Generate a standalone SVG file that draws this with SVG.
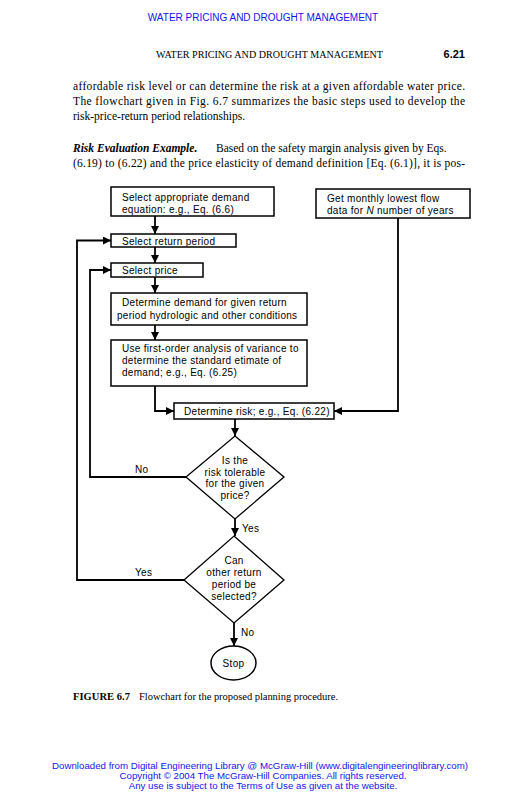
<svg xmlns="http://www.w3.org/2000/svg" width="531" height="800" viewBox="0 0 531 800">
<defs>
<marker id="ah" viewBox="0 0 10 10" refX="10" refY="5" markerWidth="9" markerHeight="8" markerUnits="userSpaceOnUse" orient="auto">
<path d="M0,0 L10,5 L0,10 z" fill="#000"/>
</marker>
</defs>
<style>
.blue{font-family:"Liberation Sans",Arial,sans-serif;fill:#1414f0;}
.tm{font-family:"Liberation Serif","Times New Roman",serif;fill:#000;}
.box{fill:#fff;stroke:#000;stroke-width:1.5;}
.dia{fill:#fff;stroke:#000;stroke-width:1.3;}
.lbl{font-family:"Liberation Sans",Arial,sans-serif;font-size:10px;letter-spacing:0.3px;fill:#000;}
.mid{text-anchor:middle;}
.con{fill:none;stroke:#000;stroke-width:1.8;}
.arr{marker-end:url(#ah);}
</style>
<rect width="531" height="800" fill="#fff"/>

<text class="blue mid" x="263" y="21" font-size="10">WATER PRICING AND DROUGHT MANAGEMENT</text>
<text class="tm" x="156" y="58" font-size="9.5" textLength="227" lengthAdjust="spacingAndGlyphs">WATER PRICING AND DROUGHT MANAGEMENT</text>
<text x="465" y="58" font-family="Liberation Sans,Arial,sans-serif" font-weight="bold" font-size="11" text-anchor="end">6.21</text>

<text class="tm" x="73" y="90" font-size="11.5" textLength="392" lengthAdjust="spacing">affordable risk level or can determine the risk at a given affordable water price.</text>
<text class="tm" x="73" y="105" font-size="11.5" textLength="392" lengthAdjust="spacing">The flowchart given in Fig. 6.7 summarizes the basic steps used to develop the</text>
<text class="tm" x="73" y="120" font-size="11.5">risk-price-return period relationships.</text>
<text class="tm" x="73" y="152" font-size="11.5"><tspan font-weight="bold" font-style="italic">Risk Evaluation Example.</tspan><tspan x="216">Based on the safety margin analysis given by Eqs.</tspan></text>
<text class="tm" x="73" y="167" font-size="11.5" textLength="392" lengthAdjust="spacing">(6.19) to (6.22) and the price elasticity of demand definition [Eq. (6.1)], it is pos-</text>

<g id="connectors">
<path class="con arr" d="M155,216 V234"/>
<path class="con arr" d="M155,247 V263"/>
<path class="con arr" d="M155,277 V293"/>
<path class="con arr" d="M155,325 V340"/>
<path class="con arr" d="M155,386 V411 H174"/>
<path class="con arr" d="M398,218 V411 H334"/>
<path class="con arr" d="M235,419 V436"/>
<path class="con arr" d="M187,477 H90 V270 H111"/>
<path class="con arr" d="M235,519 V536"/>
<path class="con arr" d="M185,580 H77 V240.5 H111"/>
<path class="con arr" d="M234,623 V646"/>
<text class="lbl" x="135" y="473">No</text>
<text class="lbl" x="135" y="576">Yes</text>
<text class="lbl" x="242" y="532">Yes</text>
<text class="lbl" x="241" y="636">No</text>
</g>

<g id="n1">
<rect class="box" x="111" y="187" width="163" height="29"/>
<text class="lbl" x="122" y="200.5">Select appropriate demand</text>
<text class="lbl" x="122" y="212.5">equation: e.g., Eq. (6.6)</text>
</g>
<g id="n2">
<rect class="box" x="316" y="189" width="154" height="29"/>
<text class="lbl" x="327" y="202">Get monthly lowest flow</text>
<text class="lbl" x="327" y="214">data for <tspan font-style="italic">N</tspan> number of years</text>
</g>
<g id="n3">
<rect class="box" x="111" y="234" width="125" height="13"/>
<text class="lbl" x="122" y="244.5">Select return period</text>
</g>
<g id="n4">
<rect class="box" x="111" y="263" width="92" height="14"/>
<text class="lbl" x="122" y="273.5">Select price</text>
</g>
<g id="n5">
<rect class="box" x="111" y="293" width="196" height="32"/>
<text class="lbl" x="122" y="306">Determine demand for given return</text>
<text class="lbl" x="117" y="319">period hydrologic and other conditions</text>
</g>
<g id="n6">
<rect class="box" x="111" y="340" width="196" height="46"/>
<text class="lbl" x="122" y="352">Use first-order analysis of variance to</text>
<text class="lbl" x="122" y="364">determine the standard etimate of</text>
<text class="lbl" x="122" y="376">demand; e.g., Eq. (6.25)</text>
</g>
<g id="n7">
<rect class="box" x="174" y="403" width="160" height="16"/>
<text class="lbl" x="184" y="414.5">Determine risk; e.g., Eq. (6.22)</text>
</g>
<g id="n8">
<polygon class="dia" points="235,436 284,477 235,519 186,477"/>
<text class="lbl mid" x="235" y="463.5">Is the</text>
<text class="lbl mid" x="235" y="475.5">risk tolerable</text>
<text class="lbl mid" x="235" y="487">for the given</text>
<text class="lbl mid" x="235" y="499">price?</text>
</g>
<g id="n9">
<polygon class="dia" points="234,536 284,580 234,623 184,580"/>
<text class="lbl mid" x="234" y="564">Can</text>
<text class="lbl mid" x="234" y="576">other return</text>
<text class="lbl mid" x="234" y="588">period be</text>
<text class="lbl mid" x="234" y="600">selected?</text>
</g>
<g id="n10">
<ellipse class="box" cx="233.5" cy="663" rx="22.5" ry="17"/>
<text class="lbl mid" x="233.5" y="667">Stop</text>
</g>

<text class="tm" y="700" font-size="10.5"><tspan x="73" font-weight="bold" textLength="57">FIGURE 6.7</tspan><tspan x="139" textLength="199">Flowchart for the proposed planning procedure.</tspan></text>

<text class="blue mid" x="260" y="769" font-size="9.7" textLength="416" lengthAdjust="spacingAndGlyphs">Downloaded from Digital Engineering Library @ McGraw-Hill (www.digitalengineeringlibrary.com)</text>
<text class="blue mid" x="263" y="778.5" font-size="9.7">Copyright © 2004 The McGraw-Hill Companies. All rights reserved.</text>
<text class="blue mid" x="263" y="788.5" font-size="9.7">Any use is subject to the Terms of Use as given at the website.</text>
</svg>
